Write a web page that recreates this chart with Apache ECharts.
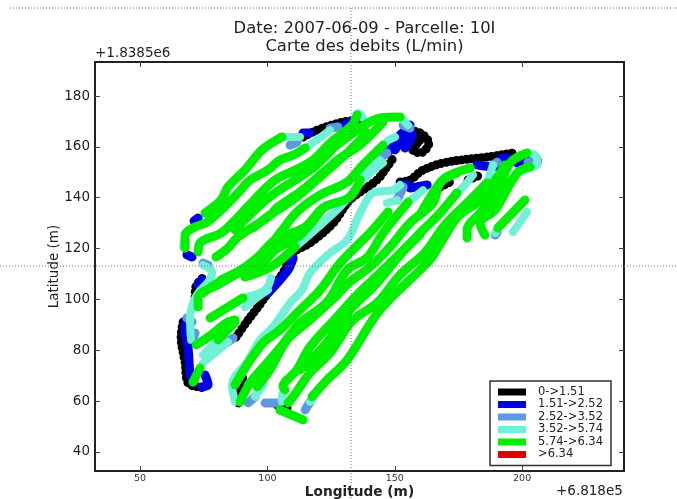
<!DOCTYPE html>
<html><head><meta charset="utf-8">
<style>html,body{margin:0;padding:0;background:#fff}#c{width:677px;height:499px;filter:blur(0.45px)}</style>
<script src="https://cdn.jsdelivr.net/npm/echarts@6/dist/echarts.min.js"></script>
</head><body><div id="c"></div>
<script>
const titleText = 'Date: 2007-06-09 - Parcelle: 10I\nCarte des debits (L/min)';
const xName = 'Longitude (m)', yName = 'Latitude (m)';
const xOffsetLabel = '+6.818e5', yOffsetLabel = '+1.8385e6';
const xTicks = [50,100,150,200];
const yTicks = [40,60,80,100,120,140,160,180];
const classNames = ['0->1.51','1.51->2.52','2.52->3.52','3.52->5.74','5.74->6.34','>6.34'];
const classColors = ['#000000','#0000e6','#5c9ae0','#70f0d6','#00f000','#e00000'];

const tracksBlack = [
 [[87.7,85.2],[92.4,91.9],[96.3,97],[100.2,102.5],[106.1,110.4],[110.1,118.3],[116.7,122.2],[125.8,130],[132.4,139.1],[143,147],[146.9,152.1],[150,156.5]],
 [[114,163.9],[119.5,166.6],[129.7,169.8],[137.5,170.6]],
 [[71.6,101],[71.9,105],[74.7,108.5]],
 [[66.9,91.1],[66.1,85.2],[67.7,75],[68.8,67.2],[72.8,65.6],[75.5,65.2]],
 [[154,166.7],[159.9,165.5],[163.4,161.5],[159.9,157.6],[156.4,159.6],[159.9,162.3],[156.8,164.7]],
 [[152.1,146.2],[156,147],[161.1,150.9],[170.5,154],[186.2,156],[196.4,157.6]],
 [[167.8,144.2],[171.7,146.2]],
 [[178.8,147],[182.7,148.6]],
 [[88.5,59.3],[89.3,67.2],[91.2,70.3]],
 [[103.8,58.5],[107.7,57.3]]
];
const tracksBlue = [
 [[68.1,91.9],[67.7,86.8],[68.8,81.3],[69.6,71.1],[70.8,67.2]],
 [[75.5,70.3],[76.7,66.4],[74.3,65.6]],
 [[100.2,102.5],[108.1,111.6],[110.1,116.3]],
 [[146.9,157.6],[154,164.7]],
 [[150.1,158.8],[156,168.6]],
 [[150,162],[154,166],[156.8,164.7],[154,159.6]],
 [[114,165.5],[116.7,165.5]],
 [[128.5,167.8],[134.4,170.6]],
 [[72.8,132],[71.2,130.9]],
 [[68.4,117.5],[70.4,116.7]],
 [[74.3,107.7],[72.8,105.7]],
 [[152.1,145],[155.2,145]],
 [[156,143.8],[162.7,145]],
 [[182.3,152.9],[188.6,152.1],[192.5,155.6],[196.4,154.8]],
 [[198,153.7],[205.9,154.8]]
];
const tracksSteel = [
 [[108.9,160.7],[111.6,161.9]],
 [[124.6,167.4],[127.7,167.8]],
 [[144.2,155.6],[146.9,157.6]],
 [[153.3,168.6],[156,167.4]],
 [[74.7,114.3],[76.7,113.5]],
 [[68.4,92.7],[70.4,91.1]],
 [[70.8,84.8],[71.6,86.8]],
 [[84.5,83.3],[86.5,84.8]],
 [[92.4,59.3],[95.1,61.7]],
 [[99.1,59.3],[103.8,59.3]],
 [[150.9,139.1],[153.3,144.2]],
 [[188.6,152.9],[190.2,154]],
 [[202.3,154],[205.9,153.7]],
 [[114.8,56.5],[116.7,59.7]],
 [[189.4,125.3],[190.2,126.5]]
];
const tracksTurquoise = [
 [[66.9,120.6],[67.3,123.4]],
 [[74.7,113.5],[78.3,110.8],[76.7,106.9],[72.8,102.5],[70.8,98.6],[69.6,91.9],[70,84.1]],
 [[110.9,120.6],[128.5,136.4],[137.5,147],[145.4,153.7]],
 [[136.4,148.9],[144.2,154.8]],
 [[147.4,162.7],[150.1,163.9]],
 [[145.4,171.8],[152.1,171.8],[154,169.8],[155.2,168.6]],
 [[115.6,159.9],[124.6,166.6]],
 [[105,163.9],[112.8,163.9]],
 [[90.4,100.6],[99.1,103.7],[101.4,108.4]],
 [[91.2,97],[96.3,101],[100.2,103.7]],
 [[74.7,75],[81.8,80.9],[84.5,83.3]],
 [[74.7,78.2],[75.9,79.3],[80.6,84.1]],
 [[134.4,171.4],[135.6,173.3],[137.5,171.4]],
 [[87.3,59.7],[86.1,66.4],[92,75.4],[97.1,84.1],[102.2,89.2],[108.9,98.6],[113.6,103.7],[116.7,110.4],[124.6,118.3],[131.3,123.4],[136.4,134],[141.5,141.9],[149.3,143],[152.1,145]],
 [[95.1,61.7],[98.3,66.4]],
 [[105.7,59.7],[105.7,62.4]],
 [[116.7,59.7],[117.9,61.2]],
 [[189.4,126.1],[190.5,128.1]],
 [[196.4,126.5],[201.9,134.4]],
 [[155.2,138.3],[161.1,143]],
 [[174.4,141.9],[176.8,144.2],[180.7,148.9]],
 [[186.2,145.8],[188.6,152.9]],
 [[198,149.7],[205.9,152.9]],
 [[201.9,157.6],[205.1,156.8],[205.9,154.8]],
 [[146.9,137.9],[150.9,139.1]]
];
const tracksGreen = [
 [[75.5,134],[81.8,139.1],[84.5,144.2],[91.2,150.9],[97.9,158.8],[105.7,163.9]],
 [[67.7,120.2],[67.7,125.3],[71.6,128.5],[75.9,130.1],[80.6,134],[88.5,141.9],[93.2,147],[100.2,150.9],[104.9,154.8],[110.1,156.8],[114.8,159.6]],
 [[72.8,118.7],[73.9,122.6],[81.8,126.1],[87.3,131.2],[93.6,137.9],[103,147],[110.9,150.9],[117.9,154.8],[124.6,161.5],[133.2,168.6],[135.2,172.5]],
 [[79.8,116.7],[84.5,120.2],[88.5,124.6],[100.2,132.4],[104.2,136.4],[112.8,142.3],[120.7,148.9],[128.5,155.6],[136.4,160.8],[145.4,169.8]],
 [[87.3,127.3],[95.1,135.2],[103,141.9],[117.9,151.7],[127.3,160.7],[136.4,167.4],[144.2,171.4],[152.1,171.8]],
 [[81.8,107.7],[89.6,111.6],[96.3,116.7],[103,123.4],[114.8,128.5],[121.8,136],[132.4,140.3],[136.4,147]],
 [[72.8,97],[72.8,100.6],[81.8,106.5],[96.3,115.5],[104.9,126.1],[111.6,134.4],[120.7,141.1],[131.3,146.2],[137.5,152.9],[145.4,160.7]],
 [[74.7,102.5],[84.5,108.8],[96.3,112.8],[103,119.4],[112.8,125.3],[121.8,136]],
 [[91.2,108.8],[101.4,112.8],[110.9,120.6]],
 [[77.5,92.7],[90.4,100.6]],
 [[72,82.1],[77.9,86],[83.8,90.7],[87.3,91.9]],
 [[80.6,84.1],[87.3,91.1]],
 [[70.8,67.5],[73.6,73]],
 [[94.4,128.1],[101,133.2],[111.6,140.3],[120.7,148.2],[131.3,157.6],[139.1,165.5]],
 [[87.3,66.4],[92,74.2],[98.3,82.9],[104.9,88],[112.8,95.9],[120.7,103.7],[128.5,114.3],[137.5,123.4],[141.5,127.5],[147.4,134.4]],
 [[89.3,59.7],[93.2,67.2],[99.9,75],[104.9,80.9],[112.8,90.7],[123.4,99],[131.3,111.6],[139.1,116.4],[145.4,126.1],[155.2,138.3]],
 [[95.9,65.6],[101,72.3],[107.7,84.1],[116.7,91.9],[126.6,101],[132.4,106.9],[140.3,112.8],[148.1,120.6],[156,130.1],[165,137.9],[167.8,145.8],[174.4,149.7]],
 [[106.9,64.4],[106.1,65.6],[111.6,72.3],[116.7,81.3],[127.3,93.1],[135.2,101.8],[144.2,110.4],[153.3,119.4],[161.1,127.3],[167.8,134],[174.4,141.9]],
 [[108.1,59.3],[110.1,61.7],[116.7,71.1],[124.6,79],[133.6,91.9],[143,98.6],[152,109.6],[161.9,118.5],[169.7,129.3],[179.6,139.1],[186.2,145.8]],
 [[117.5,61.7],[123.4,68.3],[131.3,76.2],[144.2,95.9],[163.8,115.5],[167,120.5],[174.7,132.4],[183.5,139.1],[190.2,148],[193.3,152.9]],
 [[112.8,72.3],[122.6,82.1],[132.4,95.9],[142.3,105.7],[152.1,117.5],[159.9,125.4]],
 [[178.4,124.2],[178.4,127.3],[183.5,134],[190.2,141.9],[195.3,153.7],[201.9,157.6]],
 [[185.4,125.3],[183.5,130.1],[189.4,135.2],[198,149.7],[203.1,152.1]],
 [[190.5,128.1],[201.1,139.1]],
 [[104.9,56.5],[114,52.6]],
 [[159.9,133.2],[165,141.9],[169.7,147.8],[179.6,151.7]]
];
const tracksRed = [];
const allTracks = [tracksBlack,tracksBlue,tracksSteel,tracksTurquoise,tracksGreen,tracksRed];

function flatten(paths){
  const out=[];
  paths.forEach(p=>{p.forEach(q=>out.push(q));out.push(['-','-']);});
  return out;
}
const series = allTracks.map((paths,i)=>({
  name:classNames[i], type:'line', data:flatten(paths), xAxisIndex:0, yAxisIndex:0,
  symbol:'none', showSymbol:false, connectNulls:false, silent:true, animation:false,
  smooth:0.35,
  itemStyle:{color:classColors[i]},
  lineStyle:{color:classColors[i],width:i===0?9:(i===3?8:9),cap:'round',join:'round',
             type:i===0?[0.1,5]:'solid'},
  z:2+i
}));

const GUIDE='#777';
const chart=echarts.init(document.getElementById('c'),null,{renderer:'canvas'});
chart.setOption({
  animation:false, backgroundColor:'#fff',
  textStyle:{fontFamily:'"DejaVu Sans"'},
  title:{text:titleText,left:359.5,top:15,textAlign:'center',
    textStyle:{fontSize:16.4,fontWeight:'normal',color:'#222',lineHeight:18,fontFamily:'"DejaVu Sans"'}},
  grid:{left:95,top:62,right:53,bottom:28,outerBoundsMode:'none',show:true,borderColor:'#222',borderWidth:2,backgroundColor:'#fff'},
  xAxis:[
   {type:'value',min:32.3,max:240,splitLine:{show:false},
    name:xName,nameLocation:'middle',nameGap:21,nameMoveOverlap:false,
    nameTextStyle:{fontSize:13.7,fontWeight:'bold',color:'#222',fontFamily:'"DejaVu Sans"',verticalAlign:'middle'},
    axisLine:{show:false},
    axisTick:{inside:true,length:5,lineStyle:{color:'#444'},customValues:xTicks},
    axisLabel:{fontSize:9.5,color:'#333',margin:3,customValues:xTicks}},
   {type:'value',position:'top',min:32.3,max:240,splitLine:{show:false},
    axisLine:{show:false},
    axisTick:{inside:true,length:5,lineStyle:{color:'#444'},customValues:xTicks},
    axisLabel:{show:false}}
  ],
  yAxis:[
   {type:'value',min:32.5,max:193.4,splitLine:{show:false},
    name:yName,nameLocation:'middle',nameGap:41,nameRotate:90,nameMoveOverlap:false,
    nameTextStyle:{fontSize:13.5,color:'#222',fontFamily:'"DejaVu Sans"',verticalAlign:'middle'},
    axisLine:{show:false},
    axisTick:{inside:true,length:5,lineStyle:{color:'#444'},customValues:yTicks},
    axisLabel:{fontSize:13.5,color:'#222',margin:5,customValues:yTicks}},
   {type:'value',position:'right',min:32.5,max:193.4,splitLine:{show:false},
    axisLine:{show:false},
    axisTick:{inside:true,length:5,lineStyle:{color:'#444'},customValues:yTicks},
    axisLabel:{show:false}}
  ],
  legend:{show:true,orient:'vertical',left:490,top:381,itemWidth:28,itemHeight:7,itemGap:0.5,
    padding:[5,8,5,8],borderColor:'#333',borderWidth:1.5,backgroundColor:'#fff',
    selectedMode:false,align:'left',icon:'rect',z:20,
    itemStyle:{borderWidth:0},lineStyle:{width:0},
    textStyle:{fontSize:11.5,color:'#222',padding:[0,0,0,7],lineHeight:11.5,fontFamily:'"DejaVu Sans"'},
    data:classNames.map((n,i)=>({name:n,icon:'rect',itemStyle:{color:classColors[i]}}))},
  series:series,
  graphic:[
   {type:'line',silent:true,z:50,shape:{x1:10,y1:8,x2:677,y2:8},style:{stroke:GUIDE,lineWidth:1,lineDash:[1,2]}},
   {type:'line',silent:true,z:50,shape:{x1:0,y1:266,x2:677,y2:266},style:{stroke:GUIDE,lineWidth:1,lineDash:[1,2]}},
   {type:'line',silent:true,z:50,shape:{x1:351,y1:8,x2:351,y2:499},style:{stroke:GUIDE,lineWidth:1,lineDash:[1,2]}},
   {type:'text',silent:true,z:50,left:95,top:46,style:{text:yOffsetLabel,fontSize:13.5,fill:'#222',fontFamily:'"DejaVu Sans"'}},
   {type:'text',silent:true,z:50,left:556,top:484,style:{text:xOffsetLabel,fontSize:13.5,fill:'#222',fontFamily:'"DejaVu Sans"'}}
  ]
});
</script></body></html>
